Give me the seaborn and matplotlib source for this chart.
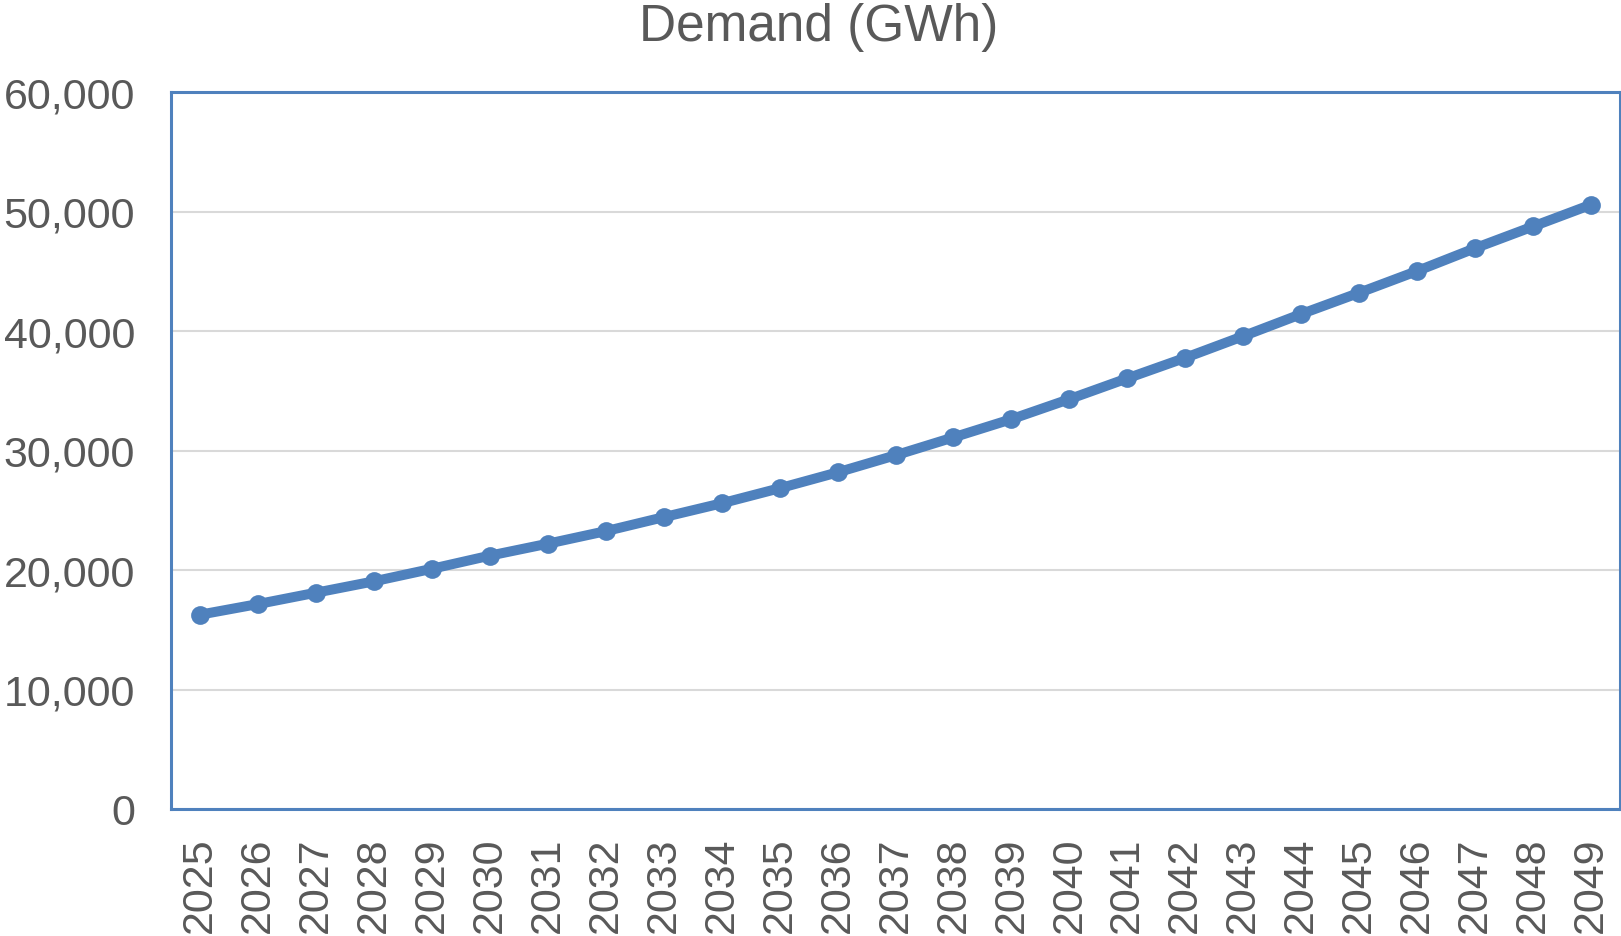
import matplotlib
matplotlib.use("Agg")
import matplotlib.pyplot as plt
import seaborn as sns
import pandas as pd
from matplotlib.ticker import FuncFormatter, MultipleLocator

years = [str(y) for y in range(2025, 2050)]
demand = [16260, 17150, 18100, 19050, 20100, 21200, 22200, 23250, 24420, 25580,
          26840, 28170, 29600, 31100, 32620, 34300, 36040, 37760, 39570, 41420,
          43200, 45020, 46930, 48750, 50570]
title = "Demand (GWh)"

sns.set_theme(style="white")
plt.rcParams['font.family'] = ['Liberation Sans', 'DejaVu Sans']

df = pd.DataFrame({"Year": years, "Demand": demand})
df["x"] = range(len(years))

W, H = 1621, 937
fig = plt.figure(figsize=(W / 100, H / 100), dpi=100)
ax = fig.add_axes([171 / W, 1 - 810 / H, (1620 - 171) / W, (810 - 93) / H])

blue = "#4F81BD"
grey_text = "#595959"

sns.lineplot(data=df, x="x", y="Demand", ax=ax, color=blue, linewidth=7.2,
             marker="o", markersize=13.5, markeredgewidth=0, zorder=3)

ax.set_xlim(-0.5, len(years) - 0.5)
ax.set_ylim(0, 60000)
ax.yaxis.set_major_locator(MultipleLocator(10000))
ax.yaxis.set_major_formatter(FuncFormatter(lambda v, p: f"{int(v):,}"))
ax.set_xticks(df["x"])
ax.set_xticklabels(years, rotation=90)
ax.set_xlabel("")
ax.set_ylabel("")

ax.grid(axis="y", color="#D9D9D9", linewidth=1.5, zorder=0)
ax.grid(axis="x", visible=False)
ax.tick_params(axis="both", length=0, labelsize=31, colors=grey_text)
ax.tick_params(axis="y", pad=26)
ax.tick_params(axis="x", pad=20)

for s in ax.spines.values():
    s.set_visible(True)
    s.set_color(blue)
    s.set_linewidth(2.2)

fig.text(0.505, 1 - 28 / H, title, ha="center", va="center",
         fontsize=37, color=grey_text)

fig.savefig("out.png", dpi=100)
